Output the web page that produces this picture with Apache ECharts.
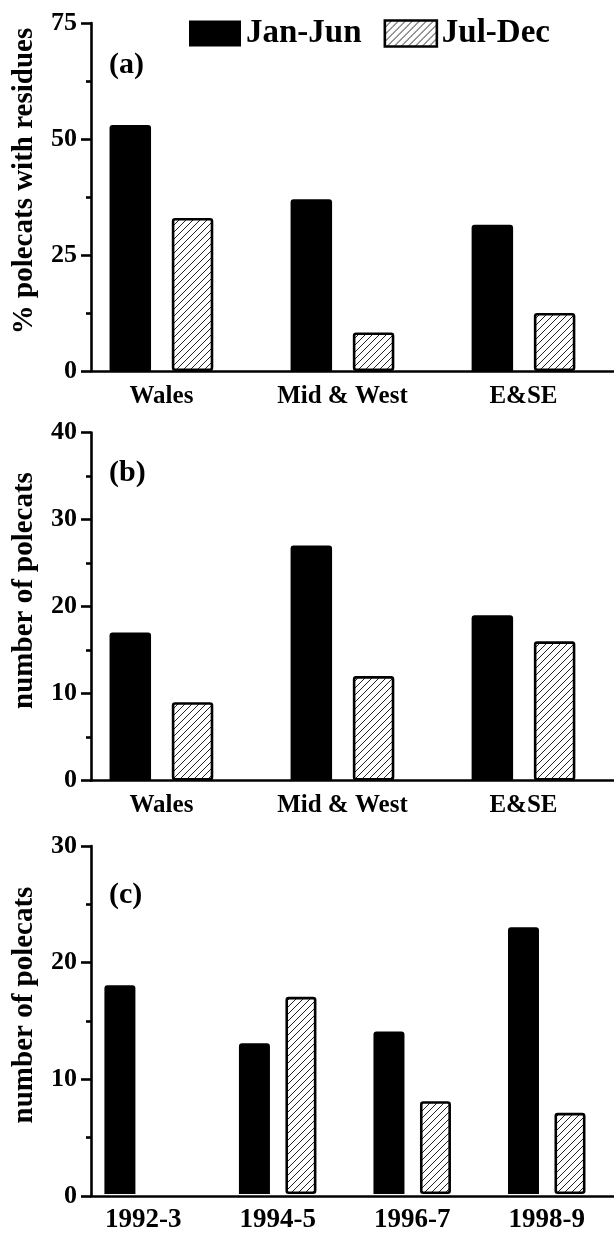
<!DOCTYPE html>
<html>
<head>
<meta charset="utf-8">
<script src="https://cdn.jsdelivr.net/npm/echarts@6/dist/echarts.min.js"></script>
<style>
  html, body { margin: 0; padding: 0; background: #fff; }
  #chart { width: 614px; height: 1234px; }
</style>
</head>
<body>
<div id="chart"></div>
<script>
// data
const regions = ['Wales', 'Mid & West', 'E&SE']
const residuesJanJun = [53, 37, 31.5]
const residuesJulDec = [33, 8.3, 12.5]
const countJanJun = [17, 27, 19]
const countJulDec = [9, 12, 16]
const seasons = ['1992-3', '1994-5', '1996-7', '1998-9']
const yearJanJun = [18, 13, 14, 23]
const yearJulDec = [0, 17, 8, 7]
const seriesNames = ['Jan-Jun', 'Jul-Dec']

const FONT = '"Liberation Serif", "Times New Roman", serif'

// diagonal hatch for the Jul-Dec bars
const makeHatch = () => {
  const s = 7
  const c = document.createElement('canvas')
  c.width = s
  c.height = s
  const ctx = c.getContext('2d')
  ctx.fillStyle = '#fff'
  ctx.fillRect(0, 0, s, s)
  ctx.strokeStyle = '#222'
  ctx.lineWidth = 1
  ctx.beginPath()
  ctx.moveTo(0, s); ctx.lineTo(s, 0)
  ctx.moveTo(-1, 1); ctx.lineTo(1, -1)
  ctx.moveTo(s - 1, s + 1); ctx.lineTo(s + 1, s - 1)
  ctx.stroke()
  return c
}
const hatch = { image: makeHatch(), repeat: 'repeat' }

const panels = [
  { top: 23, height: 348, barsLeft: 70.9, barsWidth: 561.5, cats: regions,
    jan: residuesJanJun, jul: residuesJulDec, max: 75, interval: 25,
    name: '% polecats with residues', tag: '(a)', tagTop: 50, barWidth: 41.5, barGap: '50%', labelSize: 25 },
  { top: 432.5, height: 348, barsLeft: 70.9, barsWidth: 561.5, cats: regions,
    jan: countJanJun, jul: countJulDec, max: 40, interval: 10,
    name: 'number of polecats', tag: '(b)', tagTop: 458, barWidth: 41.5, barGap: '50%', labelSize: 25 },
  { top: 846, height: 350, barsLeft: 75.9, barsWidth: 550.5, cats: seasons,
    jan: yearJanJun, jul: yearJulDec, max: 30, interval: 10,
    name: 'number of polecats', tag: '(c)', tagTop: 880, barWidth: 31, barGap: '50%', labelSize: 27 },
]

const AXIS_LEFT = 91
const LINE_W = 2.6

// an empty bar draws nothing, not a bordered sliver on the axis
const barData = (values) => values.map(v => (v === 0 ? { value: 0, itemStyle: { borderWidth: 0 } } : v))

const grid = []
const xAxis = []
const yAxis = []
const series = []
const title = []

panels.forEach((p, i) => {
  const ga = i * 2
  const gb = i * 2 + 1
  // grid holding the drawn axes
  grid.push({ left: AXIS_LEFT, right: 0, top: p.top, height: p.height })
  // grid holding the bars and category labels
  grid.push({ left: p.barsLeft, width: p.barsWidth, top: p.top, height: p.height })

  xAxis.push({
    gridIndex: ga, type: 'value', min: 0, max: 1,
    axisLine: { show: true, onZero: false, lineStyle: { color: '#000', width: LINE_W } },
    axisTick: { show: false }, axisLabel: { show: false }, splitLine: { show: false },
  })
  xAxis.push({
    gridIndex: gb, type: 'category', data: p.cats,
    axisLine: { show: false }, axisTick: { show: false },
    axisLabel: { color: '#000', fontFamily: FONT, fontWeight: 'bold', fontSize: p.labelSize, margin: 13 },
  })

  yAxis.push({
    gridIndex: ga, type: 'value', min: 0, max: p.max, interval: p.interval,
    name: p.name, nameLocation: 'middle', nameGap: 52,
    nameTextStyle: { color: '#000', fontFamily: FONT, fontWeight: 'bold', fontSize: 29, padding: [0, 0, 0, 32] },
    axisLine: { show: true, lineStyle: { color: '#000', width: LINE_W } },
    axisTick: { show: true, length: 10, lineStyle: { color: '#000', width: LINE_W } },
    minorTick: { show: true, splitNumber: 2, length: 5, lineStyle: { color: '#000', width: LINE_W } },
    axisLabel: { color: '#000', fontFamily: FONT, fontWeight: 'bold', fontSize: 26, margin: 14 },
    splitLine: { show: false },
  })
  yAxis.push({
    gridIndex: gb, type: 'value', min: 0, max: p.max, show: false,
  })

  series.push({
    name: seriesNames[0], type: 'bar', xAxisIndex: gb, yAxisIndex: gb,
    data: barData(p.jan), barWidth: p.barWidth, barGap: p.barGap,
    itemStyle: { color: '#000', borderColor: '#000', borderWidth: 2, borderRadius: [2, 2, 0, 0] },
  })
  series.push({
    name: seriesNames[1], type: 'bar', xAxisIndex: gb, yAxisIndex: gb,
    data: barData(p.jul), barWidth: p.barWidth, barGap: p.barGap,
    itemStyle: { color: hatch, borderColor: '#000', borderWidth: LINE_W, borderRadius: 2 },
  })

  title.push({
    text: p.tag, left: 109, top: p.tagTop, padding: 0,
    textStyle: { color: '#000', fontFamily: FONT, fontWeight: 'bold', fontSize: 30 },
  })
})

const chart = echarts.init(document.getElementById('chart'), null, { renderer: 'canvas' })
chart.setOption({
  animation: false,
  backgroundColor: '#fff',
  title,
  legend: {
    data: [
      { name: seriesNames[0], itemStyle: { color: '#000', borderWidth: 0 } },
      { name: seriesNames[1], itemStyle: { color: hatch, borderColor: '#000', borderWidth: LINE_W } },
    ],
    left: 189, top: 17, padding: 0,
    icon: 'rect', itemWidth: 52, itemHeight: 26, itemGap: 22,
    selectedMode: false,
    textStyle: { color: '#000', fontFamily: FONT, fontWeight: 'bold', fontSize: 33 },
  },
  grid,
  xAxis,
  yAxis,
  series,
})
</script>
</body>
</html>
